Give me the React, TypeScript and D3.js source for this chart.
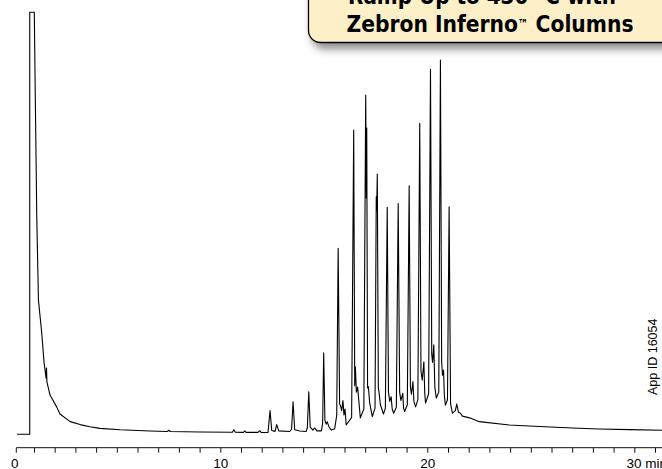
import React from "react";
import * as d3 from "d3";

// Chromatogram trace: [retention time (min), detector signal (arbitrary units)]
const trace: [number, number][] = [
  [0.15, 0], [0.77, 0], [0.77, 1000], [0.99, 1000], [1.04, 792], [1.11, 515],
  [1.19, 318], [1.35, 240], [1.46, 171], [1.56, 133], [1.58, 157], [1.60, 124],
  [1.75, 93], [2.07, 65], [2.23, 48], [2.72, 30], [3.20, 23], [3.68, 18],
  [4.16, 14], [5.13, 10.7], [6.58, 7.8], [7.42, 6.8], [7.49, 9.5], [7.56, 6.6],
  [9.0, 5.5], [10.56, 4.8], [10.63, 11], [10.70, 4.8], [11.10, 4.6], [11.16, 8],
  [11.22, 4.5], [11.80, 4.6], [11.88, 8.5], [11.95, 4.5], [12.28, 4.3], [12.38, 56],
  [12.46, 9], [12.62, 7], [12.70, 23], [12.80, 8], [13.33, 6.6], [13.42, 12],
  [13.49, 77], [13.57, 11], [13.81, 8], [14.12, 6.5], [14.18, 15], [14.25, 101],
  [14.32, 17], [14.45, 10], [14.54, 15], [14.64, 8], [14.86, 8], [14.92, 26],
  [14.97, 193], [15.03, 33], [15.09, 24], [15.14, 30], [15.22, 18], [15.34, 10],
  [15.50, 13], [15.60, 45], [15.67, 441], [15.74, 72], [15.79, 66], [15.84, 56],
  [15.90, 80], [15.95, 46], [16.00, 60], [16.06, 22], [16.32, 40], [16.42, 721],
  [16.47, 115], [16.50, 160], [16.55, 100], [16.61, 112], [16.74, 39], [16.91, 60],
  [17.00, 804], [17.03, 560], [17.05, 726], [17.09, 110], [17.13, 113], [17.19, 75],
  [17.32, 42], [17.45, 62], [17.51, 563], [17.53, 530], [17.56, 617], [17.61, 110],
  [17.64, 101], [17.71, 70], [17.86, 48], [17.95, 62], [18.04, 538], [18.10, 100],
  [18.16, 78], [18.23, 89], [18.28, 60], [18.35, 50], [18.48, 64], [18.57, 547],
  [18.64, 100], [18.70, 80], [18.79, 97], [18.83, 62], [18.88, 54], [19.01, 70],
  [19.10, 589], [19.16, 112], [19.21, 95], [19.28, 125], [19.33, 78], [19.41, 65],
  [19.52, 82], [19.61, 737], [19.67, 150], [19.73, 128], [19.81, 172], [19.85, 100],
  [19.89, 74], [20.04, 96], [20.13, 865], [20.19, 190], [20.23, 170], [20.29, 212],
  [20.34, 112], [20.41, 86], [20.53, 100], [20.61, 887], [20.67, 172], [20.71, 140],
  [20.76, 152], [20.80, 92], [20.85, 69], [20.95, 82], [21.03, 539], [21.10, 72],
  [21.19, 50], [21.33, 56], [21.40, 72], [21.48, 52], [21.58, 50], [21.67, 43],
  [22.02, 39], [22.49, 30], [23.94, 22], [25.39, 18.5], [26.98, 15], [28.28, 12.6],
  [29.73, 11], [31.4, 9.7],
];

const minorTicks = d3.range(0, 32, 1);
const labelledTicks = [0, 10, 20, 30];
const tickLabels = ["0", "10", "20", "30 min"];
const titleLine1 = "Ramp Up to 430 °C with";
const titleLine2a = "Zebron Inferno";
const titleLine2tm = "™";
const titleLine2b = " Columns";
const appId = "App ID 16054";

const W = 662;
const H = 469;

export default function App() {
  const x = d3.scaleLinear().domain([0, 30]).range([13.8, 634.8]);
  const y = d3.scaleLinear().domain([0, 1000]).range([434.3, 12.3]);
  const line = d3
    .line<[number, number]>()
    .x((d) => x(d[0]))
    .y((d) => y(d[1]))
    .curve(d3.curveLinear);

  const axisY = 447.7;
  const font = "'Liberation Sans', Arial, Helvetica, sans-serif";
  const condensed =
    "'Liberation Sans Narrow', 'Arial Narrow', 'DejaVu Sans Condensed', 'Liberation Sans', sans-serif";

  return (
    <svg
      width={W}
      height={H}
      viewBox={`0 0 ${W} ${H}`}
      style={{ position: "absolute", left: 0, top: 0, background: "#fff" }}
    >
      <defs>
        <filter id="shadow" x="-10%" y="-50%" width="130%" height="200%">
          <feDropShadow dx="4" dy="6" stdDeviation="4" floodColor="#000" floodOpacity="0.45" />
        </filter>
      </defs>
      <rect x={0} y={0} width={W} height={H} fill="#fff" />

      {/* chromatogram */}
      <path
        d={line(trace) || ""}
        fill="none"
        stroke="#000"
        strokeWidth={1.1}
        strokeLinejoin="round"
      />

      {/* time axis */}
      <line x1={x(0) + 2.5} x2={W} y1={axisY} y2={axisY} stroke="#111" strokeWidth={1} />
      {minorTicks.map((t) => (
        <line
          key={t}
          x1={t === 0 ? x(0) + 2.5 : x(t)}
          x2={t === 0 ? x(0) + 2.5 : x(t)}
          y1={axisY}
          y2={axisY + 5}
          stroke="#111"
          strokeWidth={1}
        />
      ))}
      {labelledTicks.map((t, i) => (
        <text
          key={t}
          x={i === 3 ? x(t) - 8.3 : x(t) + (i === 0 ? 1 : 0)}
          y={467.5}
          fontFamily={font}
          fontSize={13.5}
          textAnchor={i === 3 ? "start" : "middle"}
          fill="#000"
        >
          {tickLabels[i]}
        </text>
      ))}

      {/* app id */}
      <text
        transform="translate(657.3,395) rotate(-90)"
        fontFamily={font}
        fontSize={12.5}
        fill="#000"
      >
        {appId}
      </text>

      {/* callout box */}
      <rect
        x={308.5}
        y={-30}
        width={420}
        height={72.5}
        rx={12}
        ry={12}
        fill="#fdf0c9"
        stroke="#000"
        strokeWidth={1.3}
        filter="url(#shadow)"
      />
      <text
        x={348}
        y={4}
        fontFamily={condensed}
        fontWeight="bold"
        fontSize={23}
        fill="#000"
        textLength={268}
        lengthAdjust="spacingAndGlyphs"
      >
        {titleLine1}
      </text>
      <text
        x={346.5}
        y={31.7}
        fontFamily={condensed}
        fontWeight="bold"
        fontSize={23}
        fill="#000"
        textLength={287}
        lengthAdjust="spacingAndGlyphs"
      >
        {titleLine2a}
        <tspan fontSize={12} dy={-4}>{titleLine2tm}</tspan>
        <tspan dy={4}>{titleLine2b}</tspan>
      </text>
    </svg>
  );
}
